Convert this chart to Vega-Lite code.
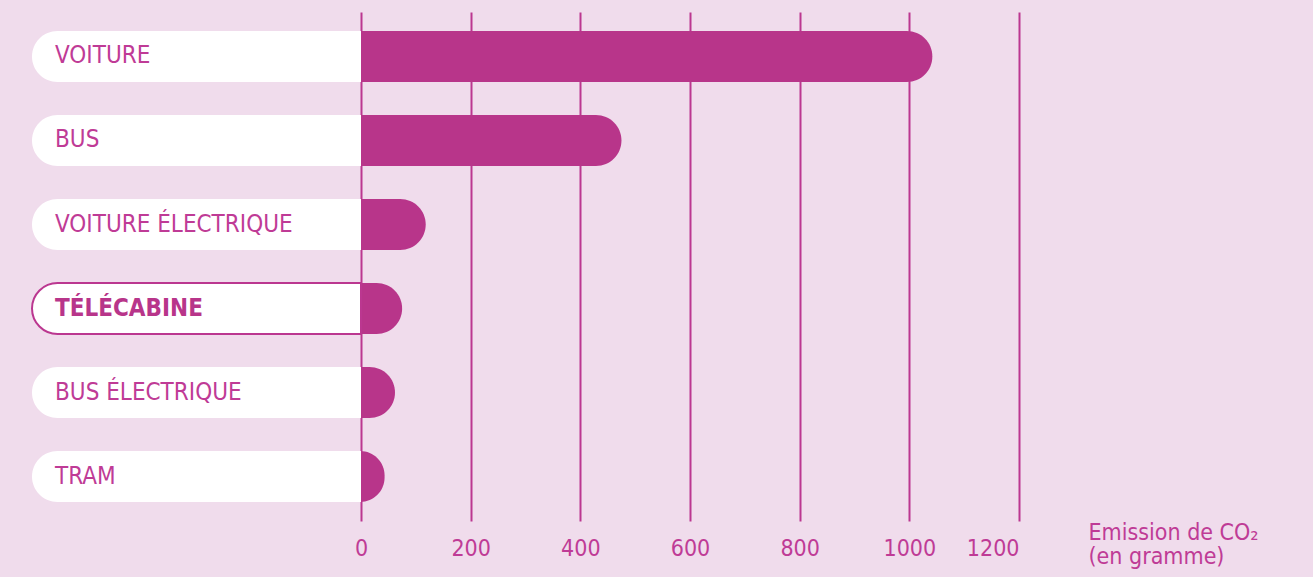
{
  "$schema": "https://vega.github.io/schema/vega-lite/v6.json",
  "width": 987,
  "height": 509,
  "autosize": {"type": "none"},
  "padding": {"left": 32, "top": 12, "right": 294, "bottom": 56},
  "background": "#f0dcec",
  "config": {"view": {"stroke": null}, "font": "DejaVu Sans Condensed"},
  "data": {
    "values": [
      {"mode": "VOITURE", "co2": 1042},
      {"mode": "BUS", "co2": 475},
      {"mode": "VOITURE ÉLECTRIQUE", "co2": 118},
      {"mode": "TÉLÉCABINE", "co2": 75},
      {"mode": "BUS ÉLECTRIQUE", "co2": 62},
      {"mode": "TRAM", "co2": 43}
    ]
  },
  "encoding": {
    "y": {
      "field": "mode",
      "type": "nominal",
      "sort": null,
      "axis": null,
      "scale": {"paddingInner": 0.392857, "paddingOuter": 0.22619}
    }
  },
  "layer": [
    {
      "mark": {"type": "bar", "color": "#b8358a", "cornerRadiusTopRight": 25.5, "cornerRadiusBottomRight": 25.5},
      "encoding": {
        "x": {
          "field": "co2",
          "type": "quantitative",
          "scale": {"domain": [-600, 1200], "nice": false, "zero": false},
          "axis": {
            "values": [0, 200, 400, 600, 800, 1000, 1200],
            "format": "d",
            "grid": true,
            "gridColor": "#bb3790",
            "gridWidth": 2,
            "gridOpacity": 1,
            "domain": false,
            "ticks": false,
            "labelFontSize": 23,
            "labelColor": "#bf3b96",
            "labelPadding": 16,
            "title": ["Emission de CO₂", "(en gramme)"],
            "titleX": 1056,
            "titleY": 18,
            "titleAlign": "left",
            "titleAnchor": null,
            "titleBaseline": "alphabetic",
            "titleFontSize": 23,
            "titleFontWeight": "normal",
            "titleColor": "#bf3b96",
            "titleLineHeight": 24,
            "titleAngle": 0
          }
        },
        "x2": {"datum": -46}
      }
    },
    {
      "mark": {"type": "bar", "fill": "white", "cornerRadiusTopLeft": 25.5, "cornerRadiusBottomLeft": 25.5},
      "encoding": {
        "x": {"datum": -600, "type": "quantitative"},
        "x2": {"datum": 0}
      }
    },
    {
      "transform": [{"filter": "datum.mode === 'TÉLÉCABINE'"}],
      "mark": {"type": "bar", "fill": "white", "stroke": "#bb3790", "strokeWidth": 2, "cornerRadiusTopLeft": 25.5, "cornerRadiusBottomLeft": 25.5},
      "encoding": {
        "x": {"datum": -600, "type": "quantitative"},
        "x2": {"datum": 0}
      }
    },
    {
      "transform": [{"filter": "datum.mode !== 'TÉLÉCABINE'"}],
      "mark": {"type": "text", "align": "left", "baseline": "middle", "fontSize": 24, "color": "#bf3b96"},
      "encoding": {
        "x": {"datum": -558, "type": "quantitative"},
        "text": {"field": "mode"}
      }
    },
    {
      "transform": [{"filter": "datum.mode === 'TÉLÉCABINE'"}],
      "mark": {"type": "text", "align": "left", "baseline": "middle", "fontSize": 24, "fontWeight": "bold", "color": "#b8358a"},
      "encoding": {
        "x": {"datum": -558, "type": "quantitative"},
        "text": {"field": "mode"}
      }
    }
  ]
}
